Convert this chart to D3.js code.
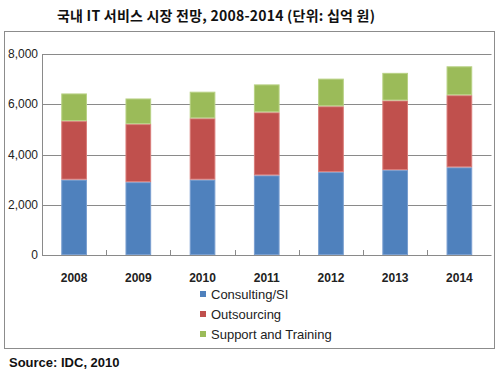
<!DOCTYPE html>
<html>
<head>
  <meta charset="utf-8">
  <title>국내 IT 서비스 시장 전망</title>
  <style>
    body { margin: 0; background: #fff; }
    text { font-family: "Liberation Sans", Arial, sans-serif; }
  </style>
</head>
<body>
  <svg width="500" height="376"></svg>
  <script src="https://d3js.org/d3.v7.min.js"></script>
  <script>
    // 데이터
    var years = ["2008", "2009", "2010", "2011", "2012", "2013", "2014"];
    var seriesNames = ["Consulting/SI", "Outsourcing", "Support and Training"];
    var consulting = [3000, 2900, 3000, 3170, 3300, 3380, 3490];
    var outsourcing = [2330, 2310, 2440, 2510, 2620, 2770, 2870];
    var support = [1100, 1020, 1060, 1110, 1100, 1100, 1150];
    var yTicks = [0, 2000, 4000, 6000, 8000];
    var colors = ["#4F81BD", "#C0504D", "#9BBB59"];
    var strokes = ["#7A9FD0", "#D97C79", "#B8D184"];

    var rows = years.map(function (y, i) {
      return { year: y, c: consulting[i], o: outsourcing[i], s: support[i] };
    });
    var stack = d3.stack().keys(["c", "o", "s"])(rows);

    var svg = d3.select("svg");

    // 바깥 틀
    svg.append("rect")
      .attr("x", 4.5).attr("y", 31.5)
      .attr("width", 490).attr("height", 317)
      .attr("fill", "none").attr("stroke", "#8c8c8c");

    svg.append("text")
      .attr("x", 57).attr("y", 21)
      .attr("textLength", 318)
      .attr("lengthAdjust", "spacing")
      .style("font-family", "'Noto Sans CJK KR', sans-serif")
      .style("font-weight", "bold")
      .style("font-size", "14px")
      .attr("fill", "#111")
      .text("국내 IT 서비스 시장 전망, 2008-2014 (단위: 십억 원)");

    var plotLeft = 42, plotRight = 491.5, plotTop = 54, plotBottom = 255;

    var x = d3.scaleBand().domain(years).range([plotLeft, plotRight]).paddingInner(0.6).paddingOuter(0.3);
    var xb = d3.scaleBand().domain(years).range([plotLeft, plotRight]);
    var y = d3.scaleLinear().domain([0, 8000]).range([plotBottom, plotTop]);

    // 그리드
    svg.append("g").selectAll("line")
      .data(yTicks.slice(1))
      .enter().append("line")
      .attr("x1", plotLeft).attr("x2", plotRight)
      .attr("y1", function (d) { return Math.round(y(d)) + 0.5; })
      .attr("y2", function (d) { return Math.round(y(d)) + 0.5; })
      .attr("stroke", "#8a8a8a");

    svg.append("line")
      .attr("x1", plotLeft + 0.5).attr("x2", plotLeft + 0.5)
      .attr("y1", plotTop).attr("y2", plotBottom)
      .attr("stroke", "#8a8a8a");

    // 막대
    svg.append("g").selectAll("g")
      .data(stack)
      .enter().append("g")
      .attr("fill", function (d, i) { return colors[i]; })
      .attr("stroke", function (d, i) { return strokes[i]; })
      .selectAll("rect")
      .data(function (d) { return d; })
      .enter().append("rect")
      .attr("x", function (d) { return x(d.data.year) + 0.5; })
      .attr("width", x.bandwidth() - 1)
      .attr("y", function (d) { return y(d[1]) + 0.5; })
      .attr("height", function (d) { return y(d[0]) - y(d[1]) - 1; });

    // x축
    svg.append("line")
      .attr("x1", plotLeft).attr("x2", plotRight)
      .attr("y1", plotBottom + 0.5).attr("y2", plotBottom + 0.5)
      .attr("stroke", "#8a8a8a");

    svg.append("g").selectAll("line")
      .data(years.slice(1))
      .enter().append("line")
      .attr("x1", function (d) { return Math.round(xb(d)) + 0.5; })
      .attr("x2", function (d) { return Math.round(xb(d)) + 0.5; })
      .attr("y1", plotBottom - 5).attr("y2", plotBottom)
      .attr("stroke", "#8a8a8a");

    svg.append("g").selectAll("text")
      .data(years)
      .enter().append("text")
      .attr("x", function (d) { return x(d) + x.bandwidth() / 2; })
      .attr("y", 282)
      .attr("text-anchor", "middle")
      .style("font-size", "12px")
      .style("font-weight", "bold")
      .attr("fill", "#222")
      .text(function (d) { return d; });

    // y축 라벨
    svg.append("g").selectAll("text")
      .data(yTicks)
      .enter().append("text")
      .attr("x", 38)
      .attr("y", function (d) { return y(d) + 4; })
      .attr("text-anchor", "end")
      .style("font-size", "12px")
      .attr("fill", "#222")
      .text(d3.format(","));

    // 범례
    var legend = svg.append("g").selectAll("g")
      .data(seriesNames)
      .enter().append("g")
      .attr("transform", function (d, i) { return "translate(200," + (294 + i * 20) + ")"; });
    legend.append("rect")
      .attr("x", 0).attr("y", -3)
      .attr("width", 6).attr("height", 6)
      .attr("fill", function (d, i) { return colors[i]; });
    legend.append("text")
      .attr("x", 11).attr("y", 5)
      .style("font-size", "13px")
      .attr("fill", "#222")
      .text(function (d) { return d; });

    svg.append("text")
      .attr("x", 9).attr("y", 367)
      .style("font-size", "13px")
      .style("font-weight", "bold")
      .attr("fill", "#111")
      .text("Source: IDC, 2010");
  </script>
</body>
</html>
